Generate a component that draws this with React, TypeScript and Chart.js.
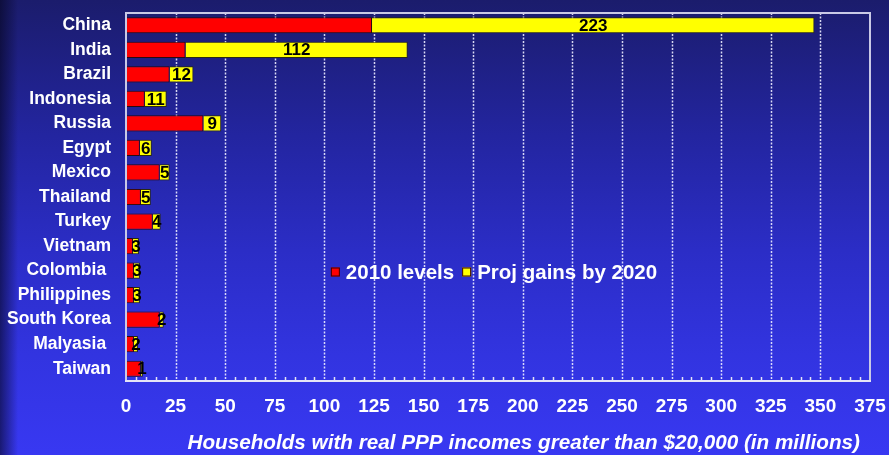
import React, { useEffect, useRef } from "react";
import { Chart, registerables } from "chart.js";

Chart.register(...registerables);

const countries = [
  "China",
  "India",
  "Brazil",
  "Indonesia",
  "Russia",
  "Egypt",
  "Mexico",
  "Thailand",
  "Turkey",
  "Vietnam",
  "Colombia ",
  "Philippines",
  "South Korea",
  "Malyasia ",
  "Taiwan",
];
const levels2010 = [124, 30, 22, 9.5, 39, 7, 17, 7.5, 13.5, 3.5, 4, 4, 17, 4, 7.5];
const gains2020 = [223, 112, 12, 11, 9, 6, 5, 5, 4, 3, 3, 3, 2, 2, 1];
const seriesNames = ["2010 levels", "Proj gains by 2020"];
const xMin = 0;
const xMax = 375;
const xStep = 25;
const minorStep = 5;
const axisTitle = "Households with real PPP incomes greater than $20,000 (in millions)";

const FONT = '"Liberation Sans", Arial, sans-serif';
const RED = "#ff0000";
const YELLOW = "#ffff00";

const decorPlugin = {
  id: "decor",
  beforeDatasetsDraw(chart: any) {
    const { ctx, chartArea, scales } = chart;
    const x = scales.x;
    ctx.save();
    ctx.strokeStyle = "rgba(236,236,255,0.9)";
    ctx.lineWidth = 1.5;
    ctx.setLineDash([2, 1.5]);
    for (let v = xMin + xStep; v < xMax; v += xStep) {
      const px = Math.round(x.getPixelForValue(v)) + 0.5;
      ctx.beginPath();
      ctx.moveTo(px, chartArea.top);
      ctx.lineTo(px, chartArea.bottom);
      ctx.stroke();
    }
    ctx.restore();
  },
  afterDatasetsDraw(chart: any) {
    const { ctx, chartArea, scales } = chart;
    const x = scales.x;
    ctx.save();
    ctx.setLineDash([]);
    ctx.strokeStyle = "#c9c9e6";
    ctx.lineWidth = 2;
    ctx.beginPath();
    ctx.moveTo(chartArea.left, chartArea.bottom);
    ctx.lineTo(chartArea.left, chartArea.top);
    ctx.lineTo(chartArea.right, chartArea.top);
    ctx.lineTo(chartArea.right, chartArea.bottom);
    ctx.stroke();
    ctx.strokeStyle = "#e4e4f6";
    ctx.beginPath();
    ctx.moveTo(chartArea.left - 1, chartArea.bottom);
    ctx.lineTo(chartArea.right + 1, chartArea.bottom);
    ctx.stroke();
    ctx.lineWidth = 1.5;
    for (let v = xMin + minorStep; v < xMax; v += minorStep) {
      if (v % xStep === 0) continue;
      const px = Math.round(x.getPixelForValue(v)) + 0.5;
      ctx.beginPath();
      ctx.moveTo(px, chartArea.bottom);
      ctx.lineTo(px, chartArea.bottom - 4);
      ctx.stroke();
    }

    // value labels on yellow segments
    const meta = chart.getDatasetMeta(1);
    ctx.fillStyle = "#000";
    ctx.font = `bold 17px ${FONT}`;
    ctx.textAlign = "center";
    ctx.textBaseline = "middle";
    meta.data.forEach((bar: any, i: number) => {
      const cx = (bar.x + bar.base) / 2;
      ctx.fillText(String(gains2020[i]), cx, bar.y + 1);
    });

    // legend inside plot
    const colors = [RED, YELLOW];
    let lx = x.getPixelForValue(103) + 0.5;
    const ly = chartArea.top + 259;
    ctx.font = `bold 20.5px ${FONT}`;
    ctx.textAlign = "left";
    ctx.textBaseline = "middle";
    seriesNames.forEach((name, i) => {
      ctx.fillStyle = colors[i];
      ctx.fillRect(lx, ly - 4.5, 9, 9);
      ctx.strokeStyle = "#3a0000";
      ctx.lineWidth = 1;
      ctx.strokeRect(lx + 0.5, ly - 4, 8, 8);
      lx += 15;
      ctx.fillStyle = "#ffffff";
      ctx.fillText(name, lx, ly + 1);
      lx += ctx.measureText(name).width + 8;
    });

    // axis title
    ctx.font = `italic bold 20.7px ${FONT}`;
    ctx.fillStyle = "#ffffff";
    ctx.textAlign = "right";
    ctx.textBaseline = "middle";
    ctx.fillText(axisTitle, chartArea.right - 10, chart.height - 12);
    ctx.restore();
  },
};

export default function App() {
  const ref = useRef<HTMLCanvasElement | null>(null);

  useEffect(() => {
    if (!ref.current) return;
    const chart = new Chart(ref.current, {
      type: "bar",
      data: {
        labels: countries,
        datasets: [
          {
            label: seriesNames[0],
            data: levels2010,
            backgroundColor: RED,
            borderColor: "#2a0a10",
            borderWidth: 1,
            barPercentage: 0.66,
            categoryPercentage: 1,
          },
          {
            label: seriesNames[1],
            data: gains2020,
            backgroundColor: YELLOW,
            borderColor: "#2a2a10",
            borderWidth: 1,
            barPercentage: 0.66,
            categoryPercentage: 1,
          },
        ],
      },
      options: {
        indexAxis: "y",
        responsive: false,
        animation: false,
        layout: { padding: { top: 13, right: 19, left: 0, bottom: 0 } },
        plugins: {
          legend: { display: false },
          tooltip: { enabled: false },
        },
        scales: {
          x: {
            stacked: true,
            min: xMin,
            max: xMax,
            ticks: {
              stepSize: xStep,
              color: "#ffffff",
              font: { family: FONT, size: 19, weight: "bold" },
              padding: 14,
              maxRotation: 0,
              autoSkip: false,
            },
            grid: { display: false, drawTicks: false },
            border: { display: false },
            afterFit: (s: any) => {
              s.height = 74;
              s.paddingLeft = 0;
              s.paddingRight = 0;
            },
          },
          y: {
            stacked: true,
            ticks: {
              color: "#ffffff",
              font: { family: FONT, size: 17.5, weight: "bold" },
              padding: 15,
              autoSkip: false,
            },
            grid: { display: false, drawTicks: false },
            border: { display: false },
            afterFit: (s: any) => {
              s.width = 126;
              s.paddingTop = 0;
              s.paddingBottom = 0;
            },
          },
        },
      } as any,
      plugins: [decorPlugin],
    });
    return () => chart.destroy();
  }, []);

  return (
    <div
      style={{
        position: "absolute",
        left: 0,
        top: 0,
        width: 889,
        height: 455,
        overflow: "hidden",
        background:
          "linear-gradient(180deg, #1b1c6c 0%, #2325a0 30%, #2b2dc6 55%, #3234e0 78%, #3838f2 100%)",
      }}
    >
      <div
        style={{
          position: "absolute",
          left: 0,
          top: 0,
          width: 889,
          height: 455,
          background:
            "linear-gradient(90deg, rgba(5,5,30,0.6) 0px, rgba(5,5,30,0) 18px)",
        }}
      />
      <canvas
        ref={ref}
        width={889}
        height={455}
        style={{ position: "absolute", left: 0, top: 0, display: "block" }}
      />
    </div>
  );
}
